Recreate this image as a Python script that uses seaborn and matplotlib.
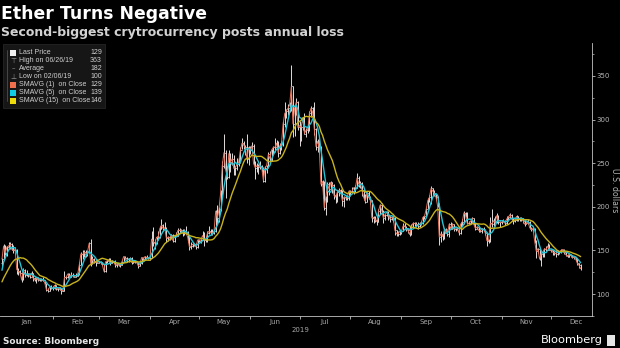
import numpy as np
import pandas as pd
import matplotlib
matplotlib.use("Agg")
import matplotlib.pyplot as plt
import matplotlib.dates as mdates
from matplotlib.patches import Rectangle
from matplotlib.lines import Line2D
import seaborn as sns

# ---------------- data (daily ETH/USD) ----------------
pre_close = [90, 94, 100, 104, 102, 106, 115, 124, 120, 118, 108, 124, 128, 136]  # Dec 18-31 2018 (for the moving averages)

close = [
    # Jan
    140,155,147,154,155,157,151,150,151,128, 126,124,116,128,122,123,123,120,124,118, 116,118,116,117,116,116,113,105,104,108,107,
    # Feb
    107,110,106,106,107,104,104,119,119,123, 120,122,121,120,121,122,133,146,145,148, 145,148,158,135,140,137,137,136,
    # Mar
    137,136,134,126,137,138,139,135,138,137, 133,134,133,133,137,143,141,138,140,141, 136,137,137,136,132,135,142,140,143,142,141,
    # Apr
    141,163,160,158,165,165,175,179,175,176, 164,165,164,168,161,167,167,173,173,173, 170,172,170,165,154,155,157,157,154,162,
    # May
    161,162,167,162,162,170,172,170,170,172, 195,187,197,216,247,262,243,234,261,251, 255,244,245,249,251,265,273,271,268,255,268,
    # Jun
    265,270,250,245,247,246,246,245,230,245, 247,260,255,265,268,268,273,262,270,272, 295,307,310,313,317,338,295,313,320,291,
    # Jul
    293,291,302,284,288,288,307,313,308,289, 269,275,268,226,229,199,211,226,220,228, 225,213,211,217,219,218,207,211,210,210,218,
    # Aug
    217,218,222,222,233,226,227,219,211,206, 216,211,208,187,188,185,183,195,202,196, 187,191,194,190,186,188,187,173,169,169,172,
    # Sep
    172,178,178,174,173,168,177,181,181,180, 178,180,181,188,189,197,207,211,221,218, 215,211,201,165,169,166,173,174,169,180,
    # Oct
    175,180,174,176,176,170,180,183,193,191, 181,181,183,187,180,175,177,173,172,175, 174,170,161,161,181,180,184,182,190,183,182,
    # Nov
    182,184,181,186,188,191,186,184,185,189, 186,187,186,184,180,181,183,176,174,175, 161,149,152,140,146,148,152,151,155,151,
    # Dec
    150,148,147,146,148,148,150,151,148,145, 143,145,144,142,142,140,135,133,129,
]

high = [
    141,157,156,155,160,160,159,156,154,152, 130,127,125,130,129,127,124,123,126,124, 119,120,119,118,118,120,116,113,107,109,110,
    109,111,110,107,108,107,105,126,121,124, 124,125,124,122,124,125,137,148,150,151, 151,149,160,163,144,141,139,140,
    138,138,137,134,138,139,141,141,139,138, 139,135,134,135,138,144,144,143,141,142, 142,138,138,138,137,136,143,142,144,145,143,
    143,172,177,163,166,172,178,186,180,183, 177,166,166,169,169,168,171,176,176,175, 175,175,178,172,167,160,159,159,158,163,
    163,163,172,171,166,172,178,174,174,175, 196,202,200,219,253,284,265,247,265,262, 262,259,247,256,257,268,279,275,271,284,270,
    270,274,272,252,250,249,252,248,246,247, 248,263,264,266,270,279,277,276,273,275, 298,320,312,318,320,363,338,317,325,321,
    298,295,303,308,290,296,310,315,314,320, 290,278,277,270,231,230,212,228,228,230, 228,226,215,218,222,220,219,212,213,213,219,
    219,223,223,225,239,235,230,228,220,215, 217,218,212,208,190,190,186,198,203,204, 196,192,195,195,190,189,190,188,173,172,173,
    173,181,181,178,175,178,180,183,182,183, 182,183,184,190,190,199,210,213,224,222, 219,215,212,204,172,170,176,176,173,181,
    183,181,180,176,177,177,182,186,195,194, 194,184,185,188,187,181,178,177,174,176, 177,175,171,163,188,197,187,190,193,191,184,
    185,186,185,190,190,193,192,187,186,191, 190,188,188,187,185,183,186,184,177,177, 176,162,153,153,148,149,153,155,158,157,
    152,151,149,150,150,149,152,152,152,149, 146,146,146,145,143,143,141,136,134,
]

low = [
    131,139,145,144,152,152,150,147,149,123, 122,122,114,116,120,121,119,118,120,115, 115,113,115,115,115,115,111,104,102,103,106,
    105,106,105,104,105,100,103,104,117,118, 119,119,119,119,120,121,122,133,140,143, 143,144,147,132,134,135,132,135,
    135,134,133,125,125,135,137,133,135,135, 131,131,132,131,133,137,140,137,137,139, 134,135,136,135,130,132,134,139,139,141,140,
    139,141,155,152,157,162,164,174,172,173, 160,161,162,163,160,160,166,167,170,171, 167,168,169,160,150,152,154,155,152,153,
    160,159,162,155,160,160,169,168,168,169, 171,180,183,195,214,245,210,232,233,240, 248,236,237,242,247,250,266,266,259,250,248,
    260,262,248,232,240,238,243,240,228,229, 239,244,252,253,261,263,266,257,260,265, 270,292,302,305,309,310,280,281,305,288,
    270,275,288,283,280,285,287,303,300,282, 265,263,265,224,210,196,191,205,214,219, 216,209,204,206,212,215,201,200,208,208,208,
    212,216,215,217,222,223,222,212,208,204, 205,209,203,183,181,182,179,182,192,192, 181,185,189,185,183,185,183,168,166,167,168,
    169,172,176,172,170,166,168,176,178,177, 175,177,179,180,186,188,197,205,203,214, 212,209,200,156,160,162,163,171,166,165,
    175,174,172,172,173,168,169,178,180,188, 180,180,180,182,179,173,174,171,171,170, 172,168,155,159,160,177,178,181,181,180,177,
    180,182,179,180,184,187,184,180,183,184, 184,184,184,181,178,180,180,174,172,172, 159,141,147,139,132,143,142,149,150,150,
    148,145,145,143,145,146,147,148,146,144, 142,142,143,141,140,138,133,130,127,
]

months = ["Jan", "Feb", "Mar", "Apr", "May", "Jun", "Jul", "Aug", "Sep", "Oct", "Nov", "Dec"]
year_label = "2019"
y_ticks = [100, 150, 200, 250, 300, 350]
legend_labels = ["Last Price", "High on 06/26/19", "Average", "Low on 02/06/19",
                 "SMAVG (1)  on Close", "SMAVG (5)  on Close", "SMAVG (15)  on Close"]
legend_values = ["129", "363", "182", "100", "129", "139", "146"]

# ---------------- derived series ----------------
dates = pd.date_range("2019-01-01", periods=len(close), freq="D")
all_close = pd.Series(pre_close + close, dtype=float)
n_pre = len(pre_close)
sma5 = all_close.rolling(5).mean().iloc[n_pre:].to_numpy()
sma15 = all_close.rolling(15).mean().iloc[n_pre:].to_numpy()
opens = [pre_close[-1]] + close[:-1]
df = pd.DataFrame({"date": dates, "close": close, "sma5": sma5, "sma15": sma15})

# ---------------- style ----------------
sns.set_theme(style="dark")
plt.rcParams["font.family"] = ["DejaVu Sans"]

W, H = 620, 348
fig = plt.figure(figsize=(W / 100, H / 100), dpi=100, facecolor="black")

def fx(px):
    return px / W

def fy(py):
    return 1 - py / H

ax = fig.add_axes([0, fy(316), fx(592), fy(43) - fy(316)], facecolor="black")

xnum = mdates.date2num(dates)
bar_col = "#e2dada"
ax.vlines(xnum, low, high, colors=bar_col, lw=0.7, zorder=2)
ax.hlines(opens, xnum - 0.45, xnum, colors=bar_col, lw=0.6, zorder=2)
ax.hlines(close, xnum, xnum + 0.45, colors=bar_col, lw=0.6, zorder=2)

sns.lineplot(data=df, x="date", y="close", color="#e8755c", lw=0.7, ax=ax, zorder=3)
sns.lineplot(data=df, x="date", y="sma5", color="#22c4d6", lw=1.0, ax=ax, zorder=4)
sns.lineplot(data=df, x="date", y="sma15", color="#c8b31c", lw=1.0, ax=ax, zorder=5)

x0 = mdates.date2num(pd.Timestamp("2019-01-01"))
ax.set_xlim(x0 - 1.2, x0 + 358.9)
ax.set_ylim(74.8, 387.8)
ax.set_xlabel("")
ax.set_ylabel("")
ax.grid(False)

# y axis on right
ax.yaxis.tick_right()
ax.set_yticks(y_ticks)
ax.set_yticks([75, 125, 175, 225, 275, 325, 375], minor=True)
ax.set_yticklabels([str(v) for v in y_ticks])
ax.tick_params(axis="y", which="major", right=True, left=False, colors="#bdbdbd",
               length=2.2, width=0.6, labelsize=5, pad=1.0, direction="out",
               labelcolor="#b5b5b5")
ax.tick_params(axis="y", which="minor", right=True, left=False, colors="#bdbdbd",
               length=1.5, width=0.5, direction="out")

# x axis: month boundaries as ticks, month names centred
month_starts = [mdates.date2num(pd.Timestamp(f"2019-{m:02d}-01")) for m in range(2, 13)]
month_mids = [mdates.date2num(pd.Timestamp(f"2019-{m:02d}-16")) for m in range(1, 13)]
ax.set_xticks(month_starts)
ax.set_xticklabels([])
ax.set_xticks(month_mids, minor=True)
ax.set_xticklabels(months, minor=True)
ax.tick_params(axis="x", which="major", bottom=True, colors="#bdbdbd", length=2.5,
               width=0.6, direction="out")
ax.tick_params(axis="x", which="minor", bottom=True, length=0, labelsize=5,
               labelcolor="#a8a8a8", pad=2.2)

for side in ["left", "top"]:
    ax.spines[side].set_visible(False)
for side in ["right", "bottom"]:
    ax.spines[side].set_visible(True)
    ax.spines[side].set_color("#c4c4c4")
    ax.spines[side].set_linewidth(0.6)

# ---------------- texts ----------------
fig.text(fx(1), fy(19), "Ether Turns Negative", fontsize=12.4, fontweight="bold",
         color="white", va="baseline", ha="left")
fig.text(fx(1), fy(36), "Second-biggest crytrocurrency posts annual loss", fontsize=9.0,
         fontweight="bold", color="#d2d2d2", va="baseline", ha="left")
fig.text(fx(614), fy(190), "U.S. dollars", rotation=270, fontsize=5.6, color="#b5b5b5",
         ha="center", va="center")
fig.text(fx(300), fy(330), year_label, fontsize=5, color="#a8a8a8", ha="center", va="center")
fig.text(fx(3), fy(341), "Source: Bloomberg", fontsize=6.4, fontweight="bold",
         color="#e6e6e6", ha="left", va="center")
fig.text(fx(603), fy(340), "Bloomberg", fontsize=8.2, color="white", ha="right", va="center")
fig.add_artist(Rectangle((fx(607), fy(346)), fx(8), 11 / H, transform=fig.transFigure,
                         facecolor="#e6e6e6", edgecolor="none", zorder=5))

# ---------------- legend box ----------------
fig.add_artist(Rectangle((fx(3), fy(108)), fx(102), 64 / H, transform=fig.transFigure,
                         facecolor="#161616", edgecolor="#2a2a2a", lw=0.5, zorder=4))
row_y = [52.7, 60.7, 68.7, 76.8, 84.8, 92.8, 100.9]
fig.add_artist(Line2D([fx(7), fx(7)], [fy(50), fy(101)], transform=fig.transFigure,
                      color="#5a5a5a", lw=0.5, zorder=5))
swatch = ["#f2f2f2", None, None, None, "#f0704e", "#12cbe6", "#eedc0a"]
glyph = [None, "\u22a4", "\u2013", "\u22a5", None, None, None]
leg_font = ["Liberation Sans", "DejaVu Sans"]
for yy, lab, val, sw, gl in zip(row_y, legend_labels, legend_values, swatch, glyph):
    if sw is not None:
        fig.add_artist(Rectangle((fx(10), fy(yy + 3)), fx(6), 6 / H,
                                 transform=fig.transFigure, facecolor=sw,
                                 edgecolor="none", zorder=6))
    else:
        fig.text(fx(13), fy(yy), gl, fontsize=5, color="#9a9a9a", ha="center",
                 va="center", zorder=6)
    fig.text(fx(19), fy(yy), lab, fontsize=5.0, color="#d0d0d0", ha="left",
             va="center", zorder=6, family=leg_font)
    fig.text(fx(102), fy(yy), val, fontsize=5.0, color="#d0d0d0", ha="right",
             va="center", zorder=6, family=leg_font)

fig.savefig("out.png", dpi=100, facecolor="black")
